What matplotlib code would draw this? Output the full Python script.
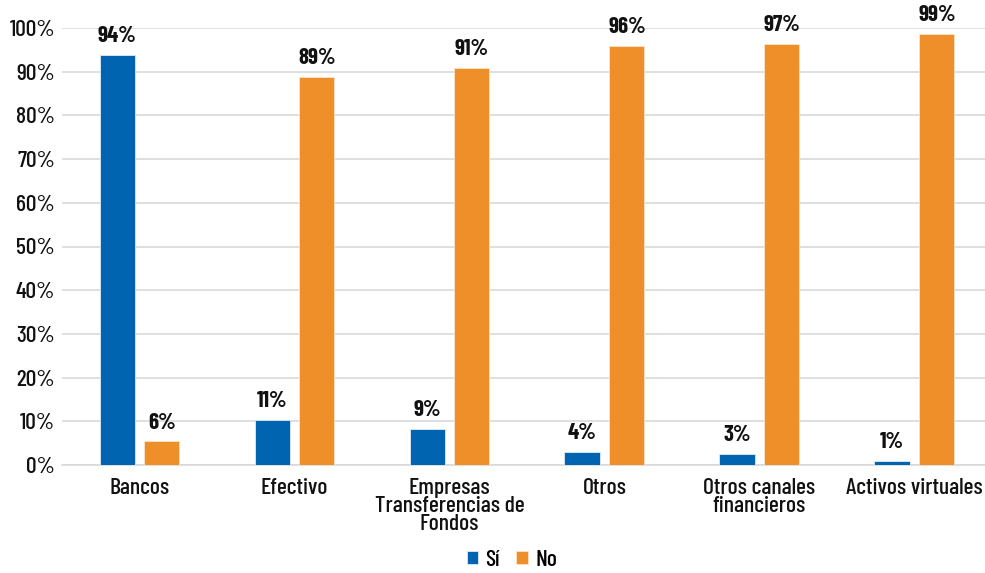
import matplotlib.pyplot as plt
import numpy as np

plt.rcParams['font.family'] = ['Barlow Condensed', 'Barlow Semi Condensed', 'Roboto Condensed', 'DejaVu Sans']

categories = ['Bancos', 'Efectivo', 'Empresas\nTransferencias de\nFondos', 'Otros',
              'Otros canales\nfinancieros', 'Activos virtuales']
si_vals = [93.8, 10.4, 8.3, 3.0, 2.6, 1.0]
no_vals = [5.4, 88.8, 90.9, 95.9, 96.4, 98.7]
si_labels = ['94%', '11%', '9%', '4%', '3%', '1%']
no_labels = ['6%', '89%', '91%', '96%', '97%', '99%']

blue = '#0064B0'
orange = '#EF8F2A'

fig = plt.figure(figsize=(9.85, 5.73), dpi=100)
ax = fig.add_axes([62 / 985, 1 - 465 / 573, 1 - 62 / 985, 437 / 573])

x = np.arange(len(categories))
w = 0.226
off = 0.145
b1 = ax.bar(x - off, si_vals, width=w, color=blue, edgecolor='#DDEBF7', linewidth=0.6, label='Sí', zorder=3)
b2 = ax.bar(x + off, no_vals, width=w, color=orange, edgecolor='#FBE3C8', linewidth=0.6, label='No', zorder=3)

for rect, lab in zip(b1, si_labels):
    ax.text(rect.get_x() + rect.get_width() / 2, rect.get_height() + 2.0, lab,
            ha='center', va='bottom', fontsize=16.5, fontweight='bold', color='#111111')
for rect, lab in zip(b2, no_labels):
    ax.text(rect.get_x() + rect.get_width() / 2, rect.get_height() + 2.0, lab,
            ha='center', va='bottom', fontsize=16.5, fontweight='bold', color='#111111')

ax.set_ylim(0, 100)
ax.set_xlim(-0.5, 5.455)
ax.set_yticks(np.arange(0, 101, 10))
ax.set_yticklabels([f'{v}%' for v in range(0, 101, 10)], fontweight='medium')
ax.set_xticks(x)
ax.set_xticklabels(categories, linespacing=0.9, fontweight='medium')
ax.tick_params(axis='both', length=0, labelsize=17, colors='#111111')
ax.tick_params(axis='y', pad=5)
ax.tick_params(axis='x', pad=9)
ax.grid(axis='y', color='#D9D9D9', linewidth=1.2, zorder=0)
for s in ['top', 'right', 'left']:
    ax.spines[s].set_visible(False)
ax.spines['bottom'].set_color('#D9D9D9')
ax.spines['bottom'].set_linewidth(1.2)

ax.legend(loc='lower center', bbox_to_anchor=(0.4875, -0.278), ncol=2, frameon=False,
          prop={'size': 17, 'weight': 'medium'}, handlelength=0.5, handleheight=0.5,
          handletextpad=0.3, columnspacing=0.7, borderpad=0.2)

fig.savefig('out.png', dpi=100)
